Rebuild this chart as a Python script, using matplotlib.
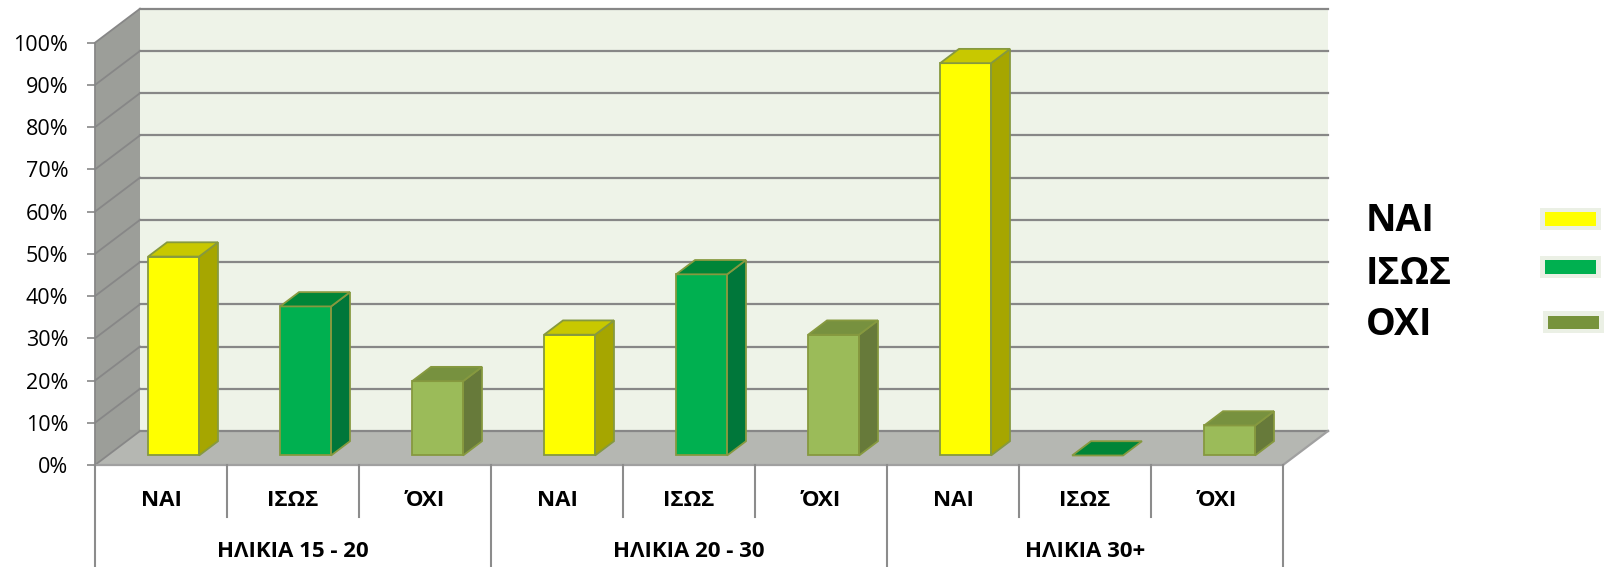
import matplotlib
matplotlib.use("Agg")

import numpy as np
import matplotlib.pyplot as plt
from matplotlib.patches import Polygon, Rectangle

plt.rcParams["font.family"] = ["Open Sans", "DejaVu Sans"]

# data (percent)
groups = ["ΗΛΙΚΙΑ 15 - 20", "ΗΛΙΚΙΑ 20 - 30", "ΗΛΙΚΙΑ 30+"]
answers = ["ΝΑΙ", "ΙΣΩΣ", "ΌΧΙ"]
legend_labels = ["ΝΑΙ", "ΙΣΩΣ", "ΟΧΙ"]
age_15_20 = [47.1, 35.3, 17.6]
age_20_30 = [28.6, 42.9, 28.6]
age_30_plus = [92.9, 0.0, 7.1]

# face colours per answer: front, side, top
front_cols = ["#FFFF00", "#00B050", "#9BBB59"]
side_cols = ["#A6A600", "#00773A", "#677A3A"]
top_cols = ["#C8C800", "#008538", "#77913F"]
legend_cols = ["#FFFF00", "#00B050", "#77933C"]
edge = "#86993F"

W, H = 1608, 567
fig = plt.figure(figsize=(W / 100, H / 100), dpi=100)
ax = fig.add_axes([95 / W, 102 / H, 1188 / W, 422.3 / H])
ax.set_xlim(0, 9)
ax.set_ylim(0, 100)

# depth direction of the fake 3d box, in data units
DX, DY = 45 / 132, 34 / 4.223
d0, bd, hw = 0.28, 0.42, 0.193

def poly(pts, fc, ec="none", lw=0, z=1):
    ax.add_patch(Polygon(pts, closed=True, facecolor=fc, edgecolor=ec,
                         linewidth=lw, zorder=z, clip_on=False))

# walls and floor
poly([(DX, DY), (9 + DX, DY), (9 + DX, 100 + DY), (DX, 100 + DY)], "#EEF3E8", z=0)
poly([(0, 0), (DX, DY), (DX, 100 + DY), (0, 100)], "#9C9E99", z=0)
poly([(0, 0), (9, 0), (9 + DX, DY), (DX, DY)], "#B5B7B2", z=0)

grid_c = "#878787"
for v in range(0, 101, 10):
    ax.plot([DX, 9 + DX], [v + DY, v + DY], color=grid_c, lw=1.6, zorder=0.5, clip_on=False)
    ax.plot([0, DX], [v, v + DY], color=grid_c, lw=1.3, zorder=0.5, clip_on=False)
ax.plot([0, 0], [0, 100], color=grid_c, lw=1.3, zorder=0.5, clip_on=False)
ax.plot([0, 9], [0, 0], color="#A0A0A0", lw=1.6, zorder=0.5, clip_on=False)
ax.plot([9, 9 + DX], [0, DY], color="#A0A0A0", lw=1.6, zorder=0.5, clip_on=False)

# bars
values = age_15_20 + age_20_30 + age_30_plus
for i, v in enumerate(values):
    k = i % 3
    xl = i + 0.5 - hw + d0 * DX
    xr = i + 0.5 + hw + d0 * DX
    b = d0 * DY
    t = v + d0 * DY
    ox, oy = bd * DX, bd * DY
    if v > 0:
        poly([(xl, b), (xr, b), (xr, t), (xl, t)], front_cols[k], edge, 1.3, 2)
        poly([(xr, b), (xr + ox, b + oy), (xr + ox, t + oy), (xr, t)], side_cols[k], edge, 1.3, 2)
    poly([(xl, t), (xr, t), (xr + ox, t + oy), (xl + ox, t + oy)], top_cols[k], edge, 1.3, 2)

# y axis
ax.set_yticks(np.arange(0, 101, 10))
ax.set_yticklabels([f"{v}%" for v in range(0, 101, 10)])
ax.tick_params(axis="y", length=5.8, width=1.2, color=grid_c, pad=13.5, labelsize=15.5)
ax.set_xticks([])
for s in ax.spines.values():
    s.set_visible(False)
ax.patch.set_visible(False)

# category axis below the floor
trans = ax.get_xaxis_transform()
for k in range(10):
    y_end = -0.2415 if k % 3 == 0 else -0.123
    ax.plot([k, k], [0, y_end], transform=trans, color="#8C8C8C", lw=1.5, clip_on=False)
for i in range(9):
    ax.text(i + 0.5, -0.083, answers[i % 3], transform=trans, ha="center", va="center",
            fontsize=16, fontweight="bold")
for g, name in enumerate(groups):
    ax.text(3 * g + 1.5, -0.206, name, transform=trans, ha="center", va="center",
            fontsize=16, fontweight="bold")

# legend: label on the left, colour swatch on the right
text_y = [216.5, 270, 320.5]
swatch_x = [1545, 1545, 1548]
swatch_y = [219, 267, 322]
for lab, col, ty, sx, sy in zip(legend_labels, legend_cols, text_y, swatch_x, swatch_y):
    fig.text(1366 / W, 1 - ty / H, lab, ha="left", va="center_baseline",
             fontsize=27, fontweight="bold")
    fig.patches.append(Rectangle(((sx - 5) / W, 1 - (sy + 11) / H), 61 / W, 22 / H,
                                 transform=fig.transFigure, facecolor="#EBF0E5",
                                 edgecolor="none", zorder=1))
    fig.patches.append(Rectangle((sx / W, 1 - (sy + 6.5) / H), 51 / W, 13 / H,
                                 transform=fig.transFigure, facecolor=col,
                                 edgecolor="none", zorder=2))

fig.savefig("out.png", dpi=100)
plt.close(fig)
